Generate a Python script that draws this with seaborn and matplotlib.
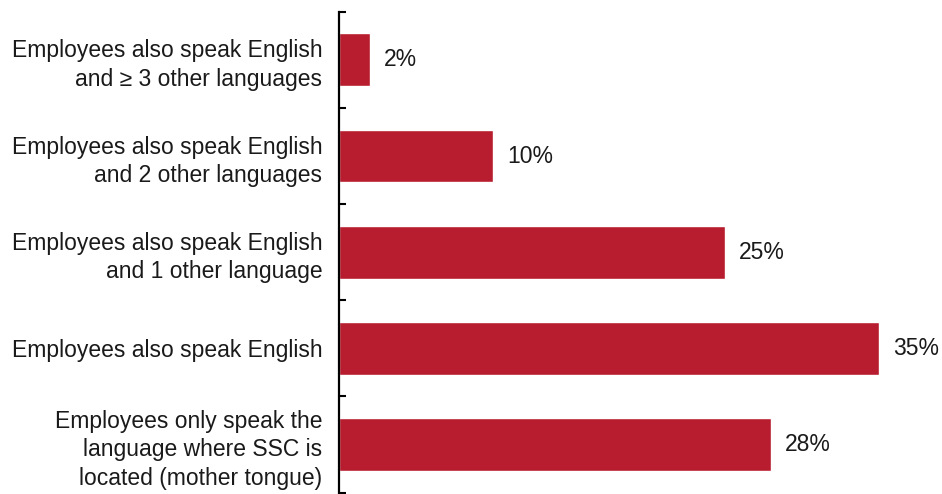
import matplotlib
matplotlib.use("Agg")
import matplotlib.pyplot as plt
import seaborn as sns
import pandas as pd

# --- data ---
categories = [
    "Employees also speak English\nand \u2265 3 other languages",
    "Employees also speak English\nand 2 other languages",
    "Employees also speak English\nand 1 other language",
    "Employees also speak English",
    "Employees only speak the\nlanguage where SSC is\nlocated (mother tongue)",
]
shares = [2, 10, 25, 35, 28]
bar_color = "#B81C2F"

df = pd.DataFrame({"category": categories, "share": shares})

sns.set_style("white")
plt.rcParams["font.family"] = ["Liberation Sans", "DejaVu Sans"]

fig = plt.figure(figsize=(9.42, 4.94), dpi=100)
ax = fig.add_axes([0.36, 0.003, 0.64, 0.973])

sns.barplot(data=df, x="share", y="category", orient="h", color=bar_color,
            saturation=1, width=0.55, ax=ax)

# value labels
for cont in ax.containers:
    ax.bar_label(cont, labels=[f"{v}%" for v in shares], padding=10,
                 fontsize=16.5, color="#1a1a1a")

ax.set_xlim(0, 39.1)
ax.set_ylim(len(categories) - 0.5, -0.5)
ax.set_xlabel("")
ax.set_ylabel("")
ax.set_xticks([])

# category labels without ticks, small ticks between categories
ax.tick_params(axis="y", which="major", left=True, length=0, pad=12,
               labelsize=16.5, labelcolor="#1a1a1a")
ax.set_yticks([i + 0.5 for i in range(-1, len(categories))], minor=True)
ax.tick_params(axis="y", which="minor", left=True, direction="in", length=5,
               width=1.5, color="black")
for lbl in ax.get_yticklabels():
    lbl.set_horizontalalignment("right")
    lbl.set_linespacing(1.32)

for side in ["top", "right", "bottom"]:
    ax.spines[side].set_visible(False)
ax.spines["left"].set_color("black")
ax.spines["left"].set_linewidth(1.6)

fig.savefig("out.png", dpi=100)
